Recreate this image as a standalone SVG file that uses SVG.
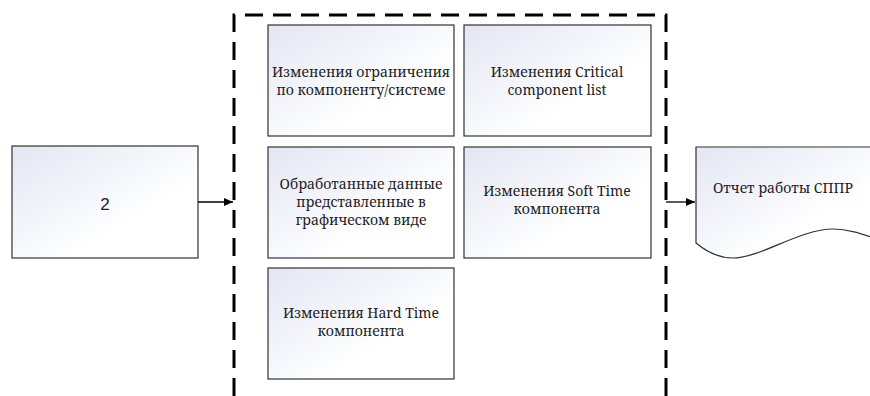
<svg xmlns="http://www.w3.org/2000/svg" width="870" height="396" viewBox="0 0 870 396">
  <defs>
    <linearGradient id="boxFill" x1="0" y1="0" x2="1" y2="1">
      <stop offset="0" stop-color="#e3e6f3"/>
      <stop offset="0.65" stop-color="#ffffff"/>
      <stop offset="1" stop-color="#ffffff"/>
    </linearGradient>
    <marker id="arrow" markerWidth="10" markerHeight="10" refX="9" refY="5" orient="auto" markerUnits="userSpaceOnUse">
      <path d="M0,1 L9,5 L0,9 Z" fill="#000"/>
    </marker>
  </defs>
  <style>
    .box { fill: url(#boxFill); stroke: #333; stroke-width: 1.2; }
    .lbl { font-family: "Noto Serif", "Liberation Serif", "Times New Roman", serif; font-size: 14px; fill: #222; text-anchor: middle; }
    .num { font-family: "Liberation Sans", Arial, sans-serif; font-size: 17px; fill: #222; text-anchor: middle; }
    .frame { fill: none; stroke: #000; stroke-width: 3; stroke-dasharray: 18 10; }
    .conn { fill: none; stroke: #000; stroke-width: 1.3; marker-end: url(#arrow); }
  </style>

  <rect width="870" height="396" fill="#fff"/>

  <!-- dashed boundary around the change set -->
  <path class="frame" d="M234,396 L234,15 L666,15 L666,396"/>

  <g id="node-2">
    <rect class="box" x="12" y="146" width="186" height="112"/>
    <text class="num" x="105" y="210">2</text>
  </g>

  <g id="node-limits">
    <rect class="box" x="268" y="25" width="186" height="111"/>
    <text class="lbl" x="361" y="77">Изменения ограничения</text>
    <text class="lbl" x="361" y="95">по компоненту/системе</text>
  </g>

  <g id="node-critical">
    <rect class="box" x="464" y="25" width="187" height="111"/>
    <text class="lbl" x="557" y="77">Изменения Critical</text>
    <text class="lbl" x="557" y="95">component list</text>
  </g>

  <g id="node-graphics">
    <rect class="box" x="268" y="147" width="186" height="111"/>
    <text class="lbl" x="361" y="189">Обработанные данные</text>
    <text class="lbl" x="361" y="207">представленные в</text>
    <text class="lbl" x="361" y="225">графическом виде</text>
  </g>

  <g id="node-soft">
    <rect class="box" x="464" y="147" width="187" height="111"/>
    <text class="lbl" x="557" y="196">Изменения Soft Time</text>
    <text class="lbl" x="557" y="214">компонента</text>
  </g>

  <g id="node-hard">
    <rect class="box" x="268" y="268" width="186" height="111"/>
    <text class="lbl" x="361" y="318">Изменения Hard Time</text>
    <text class="lbl" x="361" y="336">компонента</text>
  </g>

  <g id="node-report">
    <path class="box" d="M696,147 L880,147 L880,240 C865,235 850,229 833,229 C800,229 760,258 733,258 C720,258 708,253 696,243 Z"/>
    <text class="lbl" x="713" y="193" style="text-anchor:start">Отчет работы СППР</text>
  </g>

  <g id="connectors">
    <path class="conn" d="M198,202 L233,202"/>
    <path class="conn" d="M666,202 L695,202"/>
  </g>
</svg>
